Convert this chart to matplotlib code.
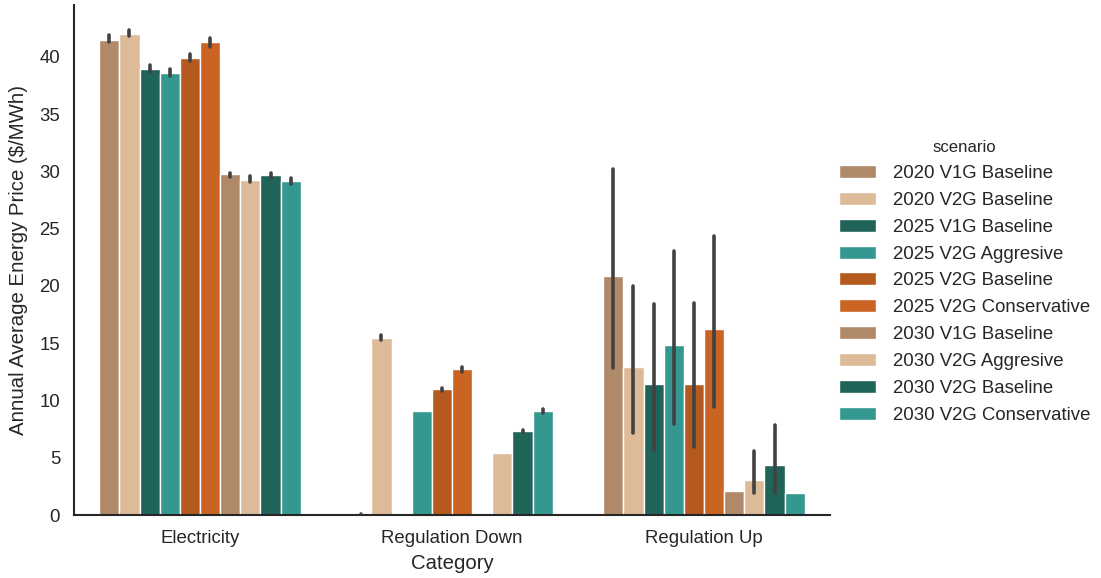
import numpy as np
import matplotlib
matplotlib.use("Agg")
import matplotlib.pyplot as plt
from matplotlib.patches import Patch

categories = ["Electricity", "Regulation Down", "Regulation Up"]
scenarios = ["2020 V1G Baseline", "2020 V2G Baseline", "2025 V1G Baseline",
             "2025 V2G Aggresive", "2025 V2G Baseline", "2025 V2G Conservative",
             "2030 V1G Baseline", "2030 V2G Aggresive", "2030 V2G Baseline",
             "2030 V2G Conservative"]
colors = ["#B08A68", "#DEBB98", "#206358", "#349890", "#B45A1E", "#CB6423",
          "#B08A68", "#DEBB98", "#206358", "#349890"]

# mean values [scenario][category]
electricity = [41.5, 42.05, 38.95, 38.6, 39.95, 41.3, 29.75, 29.3, 29.65, 29.15]
reg_down = [0.05, 15.48, np.nan, 9.08, 10.98, 12.72, np.nan, 5.44, 7.34, 9.08]
reg_up = [20.87, 12.95, 11.44, 14.85, 11.44, 16.22, 2.07, 3.06, 4.34, 1.95]

# confidence interval bounds (nan = no error bar)
elec_lo = [41.3, 41.8, 38.65, 38.3, 39.65, 40.9, 29.55, 29.05, 29.4, 28.95]
elec_hi = [41.95, 42.4, 39.3, 38.95, 40.3, 41.7, 29.9, 29.6, 29.9, 29.45]
down_lo = [0.0, 15.25, np.nan, np.nan, 10.85, 12.5, np.nan, np.nan, 7.25, 8.95]
down_hi = [0.1, 15.7, np.nan, np.nan, 11.1, 12.95, np.nan, np.nan, 7.45, 9.25]
up_lo = [12.8, 7.2, 5.7, 7.95, 5.9, 9.4, np.nan, 1.95, 1.95, np.nan]
up_hi = [30.25, 20.0, 18.4, 23.05, 18.5, 24.4, np.nan, 5.6, 7.85, np.nan]

means = np.array([electricity, reg_down, reg_up]).T
lows = np.array([elec_lo, down_lo, up_lo]).T
highs = np.array([elec_hi, down_hi, up_hi]).T

plt.rcParams['font.family'] = ['Liberation Sans', 'DejaVu Sans']
fig = plt.figure(figsize=(11.01, 5.78), dpi=100)
ax = fig.add_axes([74/1101, 1-515/578, (830-74)/1101, (515-5)/578])

n = len(scenarios)
width = 0.8 / n
x = np.arange(len(categories))
for i in range(n):
    pos = x - 0.4 + width * (i + 0.5)
    ax.bar(pos, means[i], width=width, color=colors[i], edgecolor="white",
           linewidth=1, label=scenarios[i], zorder=2)
    mask = ~np.isnan(lows[i])
    if mask.any():
        lc = ax.vlines(pos[mask], lows[i][mask], highs[i][mask], color="#424242",
                       linewidth=2.6, zorder=3)
        lc.set_capstyle("round")

ax.set_xlim(-0.5, 2.5)
ax.set_ylim(0, 44.54)
ax.set_yticks(np.arange(0, 45, 5))
ax.set_xticks(x)
ax.set_xticklabels(categories)
ax.tick_params(axis="both", length=0, labelsize=13.4, colors="#262626")
ax.tick_params(axis="y", pad=10)
ax.tick_params(axis="x", pad=10.5)
ax.set_xlabel("Category", fontsize=14.7, color="#262626", labelpad=5)
ax.set_ylabel("Annual Average Energy Price ($/MWh)", fontsize=14.7,
              color="#262626", labelpad=8)
for s in ["top", "right"]:
    ax.spines[s].set_visible(False)
for s in ["left", "bottom"]:
    ax.spines[s].set_color("#262626")
    ax.spines[s].set_linewidth(1.5)

handles = [Patch(facecolor=c, edgecolor="white", linewidth=1) for c in colors]
leg = fig.legend(handles, scenarios, title="scenario", loc="center left",
                 bbox_to_anchor=(822/1101, 1-282/578), frameon=False,
                 fontsize=13.4, title_fontsize=12.1, labelspacing=0.53,
                 handlelength=2.0, handletextpad=0.9)
for t in leg.get_texts():
    t.set_color("#262626")
leg.get_title().set_color("#262626")

fig.savefig("out.png", dpi=100, facecolor="white")
